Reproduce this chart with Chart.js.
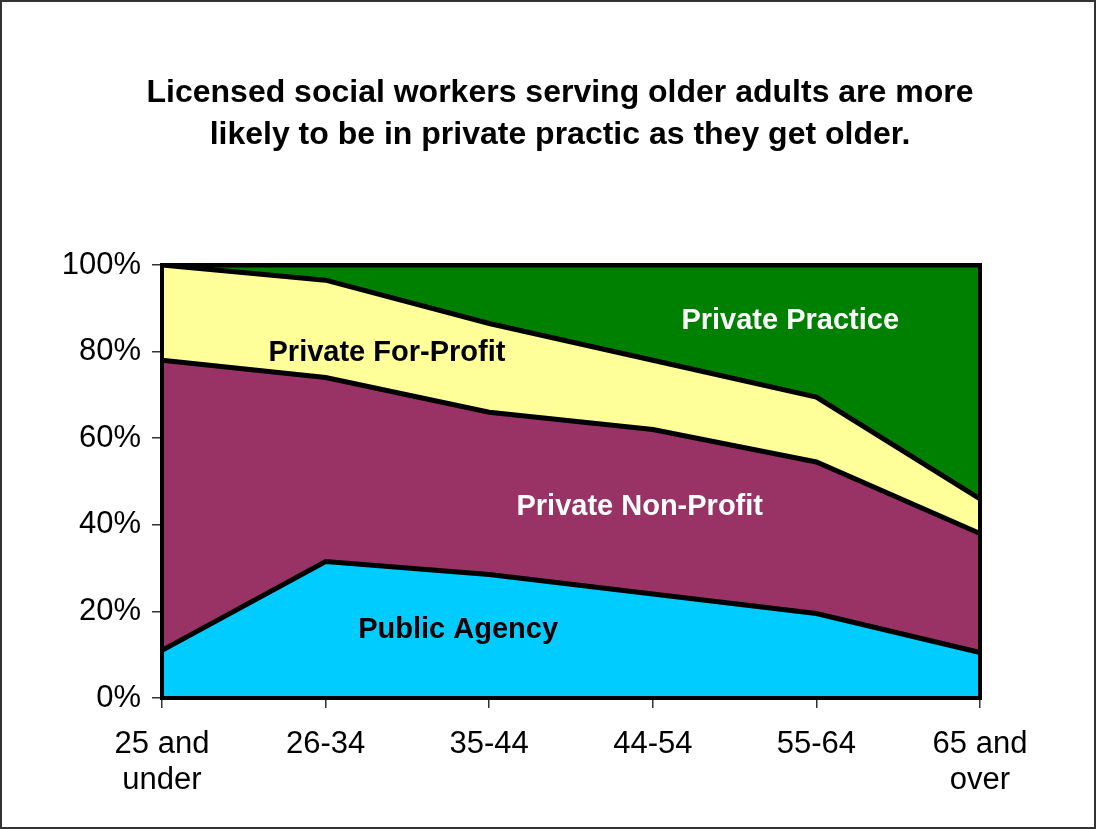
<!DOCTYPE html>
<html>
<head>
<meta charset="utf-8">
<script src="https://cdn.jsdelivr.net/npm/chart.js@4/dist/chart.umd.min.js"></script>
<style>
  html, body { margin: 0; padding: 0; background: #fff; }
  canvas { display: block; }
</style>
</head>
<body>
<canvas id="chart" width="1096" height="829"></canvas>
<script>
// age groups (two-line labels)
const ageGroups = [['25 and', 'under'], '26-34', '35-44', '44-54', '55-64', ['65 and', 'over']];

// share of licensed social workers by practice setting (%)
const publicAgency = [11, 31.5, 28.5, 24, 19.5, 10.5];
const privateNonProfit = [67, 42.5, 37.5, 38, 35, 27.5];
const privateForProfit = [22, 22.5, 20.5, 16, 15, 8];
const privatePractice = [0, 3.5, 13.5, 22, 30.5, 54];

const yTicks = [0, 20, 40, 60, 80, 100];

const titleLines = ['Licensed social workers serving older adults are more',
                    'likely to be in private practic as they get older.'];

const FONT = 'Arial, "Liberation Sans", sans-serif';

// in-area labels: [text, category index, percent, colour]
const areaLabels = [
  ['Private Practice', 3.84, 87.1, '#fff'],
  ['Private For-Profit', 1.375, 79.7, '#000'],
  ['Private Non-Profit', 2.92, 44.1, '#fff'],
  ['Public Agency', 1.81, 15.7, '#000'],
];

const framePlugin = {
  id: 'frame',
  beforeDraw(chart) {
    const ctx = chart.ctx;
    ctx.save();
    ctx.fillStyle = '#fff';
    ctx.fillRect(0, 0, chart.width, chart.height);
    ctx.restore();
  },
  afterDatasetsDraw(chart) {
    const { ctx, chartArea: a, scales } = chart;
    ctx.save();
    // plot border
    ctx.strokeStyle = '#000';
    ctx.lineWidth = 4;
    ctx.strokeRect(a.left, a.top, a.right - a.left, a.bottom - a.top);
    // area labels
    ctx.font = 'bold 29px ' + FONT;
    ctx.textAlign = 'center';
    ctx.textBaseline = 'middle';
    areaLabels.forEach(([txt, xi, yv, col]) => {
      ctx.fillStyle = col;
      ctx.fillText(txt, scales.x.getPixelForValue(xi), scales.y.getPixelForValue(yv));
    });
    ctx.restore();
  },
  afterDraw(chart) {
    const ctx = chart.ctx;
    ctx.save();
    // title
    ctx.fillStyle = '#000';
    ctx.font = 'bold 32px ' + FONT;
    ctx.textAlign = 'center';
    ctx.textBaseline = 'middle';
    titleLines.forEach((t, i) => ctx.fillText(t, 560, 93 + i * 42));
    // outer frame
    ctx.strokeStyle = '#333';
    ctx.lineWidth = 2;
    ctx.strokeRect(1, 1, chart.width - 2, chart.height - 2);
    ctx.restore();
  }
};

const makeSet = (label, data, color, fill) => ({
  label, data, fill,
  backgroundColor: color,
  borderColor: '#000',
  borderWidth: 5,
  pointRadius: 0,
  tension: 0,
});

new Chart(document.getElementById('chart'), {
  type: 'line',
  data: {
    labels: ageGroups,
    datasets: [
      makeSet('Public Agency', publicAgency, '#00CCFF', 'origin'),
      makeSet('Private Non-Profit', privateNonProfit, '#993366', '-1'),
      makeSet('Private For-Profit', privateForProfit, '#FFFF99', '-1'),
      makeSet('Private Practice', privatePractice, '#008000', '-1'),
    ],
  },
  options: {
    responsive: false,
    animation: false,
    devicePixelRatio: 1,
    layout: { padding: { top: 265, right: 116, bottom: 0, left: 0 } },
    plugins: {
      legend: { display: false },
      tooltip: { enabled: false },
      title: { display: false },
    },
    scales: {
      x: {
        type: 'category',
        offset: false,
        afterFit(scale) { scale.height = 131; },
        grid: { display: true, drawOnChartArea: false, drawTicks: true, tickLength: 10, color: '#333', lineWidth: 1.5, offset: false },
        border: { display: false },
        ticks: {
          color: '#000',
          padding: 18,
          maxRotation: 0,
          autoSkip: false,
          font: { family: FONT, size: 31, lineHeight: 1.18 },
        },
      },
      y: {
        stacked: true,
        min: 0,
        max: 100,
        afterFit(scale) { scale.width = 162; },
        afterBuildTicks(scale) { scale.ticks = yTicks.map(v => ({ value: v })); },
        grid: { display: true, drawOnChartArea: false, drawTicks: true, tickLength: 10, color: '#333', lineWidth: 1.5 },
        border: { display: false },
        ticks: {
          color: '#000',
          padding: 11,
          font: { family: FONT, size: 31 },
          callback: v => v + '%',
        },
      },
    },
  },
  plugins: [framePlugin],
});
</script>
</body>
</html>
